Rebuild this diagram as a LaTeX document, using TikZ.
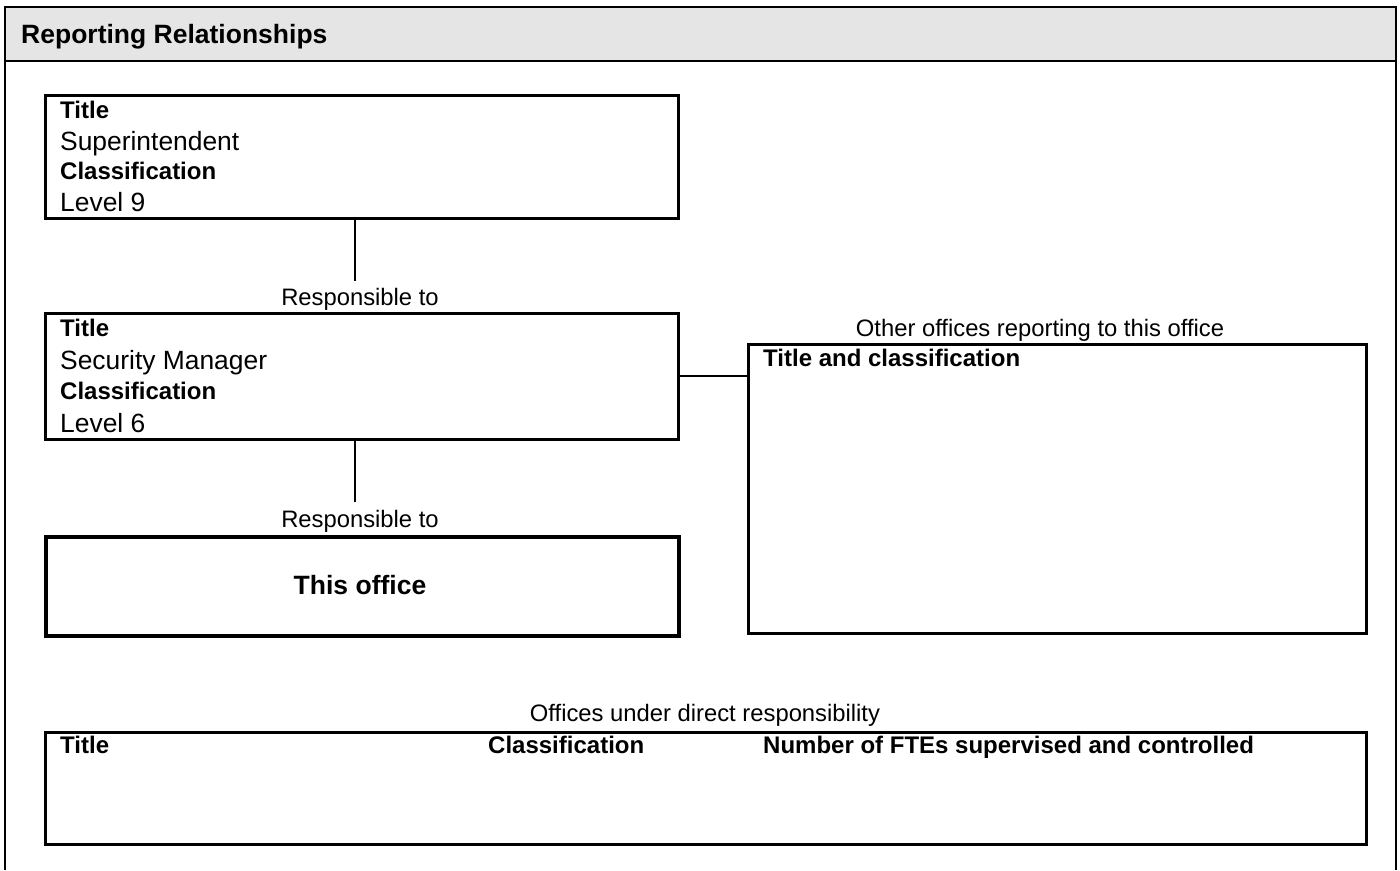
\documentclass[tikz,border=0pt]{standalone}
\usepackage{fontspec}
\setmainfont{Liberation Sans}
\begin{document}
\begin{tikzpicture}[x=1pt,y=-1pt,
  box/.style={draw, line width=2.5pt, inner sep=0pt, anchor=north west},
  lbl/.style={inner sep=0pt, anchor=base west},
  clbl/.style={inner sep=0pt, anchor=base},
  hb/.style={font=\fontsize{24}{28}\selectfont\bfseries},
  rg/.style={font=\fontsize{26.4}{30}\selectfont},
  sm/.style={font=\fontsize{23.8}{28}\selectfont},
  big/.style={font=\fontsize{26.5}{30}\selectfont\bfseries},
  conn/.style={line width=2pt}]
\useasboundingbox (0,0) rectangle (1400,870);
% frame and header
\fill[gray!20] (5,7) rectangle (1396,61);
\draw[line width=2.5pt] (5,870) -- (5,7) -- (1396,7) -- (1396,870);
\draw[line width=2.5pt] (5,61) -- (1396,61);
\node[lbl, big] (hdr) at (21,43) {Reporting Relationships};
% box 1
\node[box, minimum width=633pt, minimum height=123pt] (b1) at (44,94) {};
\node[lbl, hb] (b1t) at (60,118) {Title};
\node[lbl, rg] (b1v) at (60,150) {Superintendent};
\node[lbl, hb] (b1c) at (60,179) {Classification};
\node[lbl, rg] (b1l) at (60,211) {Level 9};
\coordinate (c1) at (355,281);
\draw[conn] (b1.south -| c1) -- (c1);
\node[clbl, sm] (r1) at (360,305) {Responsible to};
% box 2
\node[box, minimum width=633pt, minimum height=126pt] (b2) at (44,312) {};
\node[lbl, hb] (b2t) at (60,336) {Title};
\node[lbl, rg] (b2v) at (60,369) {Security Manager};
\node[lbl, hb] (b2c) at (60,399) {Classification};
\node[lbl, rg] (b2l) at (60,432) {Level 6};
\coordinate (c2) at (355,502);
\draw[conn] (b2.south -| c2) -- (c2);
\node[clbl, sm] (r2) at (360,527) {Responsible to};
% box 3
\node[box, minimum width=618pt, minimum height=289pt] (b3) at (747,343) {};
\node[clbl, sm] (o3) at (1040,336) {Other offices reporting to this office};
\node[lbl, hb] (b3t) at (763,366) {Title and classification};
\draw[conn] (b2.east) -- (b3.west |- b2.east);
% box 4
\node[box, line width=4pt, minimum width=633pt, minimum height=99pt] (b4) at (44,535) {};
\node[clbl, big] (b4t) at (360,594) {This office};
% box 5
\node[clbl, sm] (o5) at (705,721) {Offices under direct responsibility};
\node[box, minimum width=1321pt, minimum height=112pt] (b5) at (44,731) {};
\node[lbl, hb] (b5a) at (60,753) {Title};
\node[lbl, hb] (b5b) at (488,753) {Classification};
\node[lbl, hb] (b5c) at (763,753) {Number of FTEs supervised and controlled};
\end{tikzpicture}
\end{document}
